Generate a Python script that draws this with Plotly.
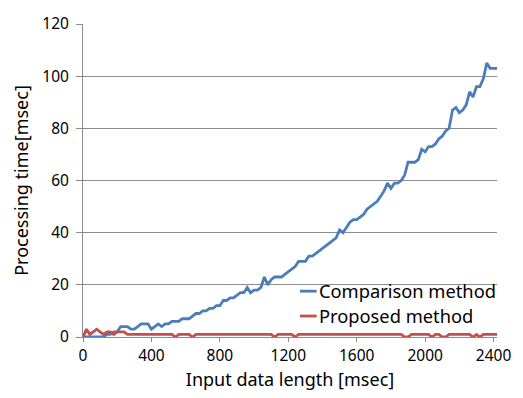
import plotly.graph_objects as go

# Input data length [msec], sampled every 20 msec
input_length = list(range(0, 2440, 20))

# Processing time [msec] of the comparison method
comparison_ms = [
    0, 0, 0, 0, 0, 0, 0, 1, 1, 2,
    2, 4, 4, 4, 3, 3, 4, 5, 5, 5,
    3, 4, 5, 4, 5, 5, 6, 6, 6, 7,
    7, 7, 8, 9, 9, 10, 10, 11, 11, 12,
    12, 14, 14, 15, 15, 16, 17, 17, 19, 17,
    18, 18, 19, 23, 20, 22, 23, 23, 23, 24,
    25, 26, 27, 29, 29, 29, 31, 31, 32, 33,
    34, 35, 36, 37, 38, 41, 40, 42, 44, 45,
    45, 46, 47, 49, 50, 51, 52, 54, 56, 59,
    57, 59, 59, 60, 62, 67, 67, 67, 68, 72,
    71, 73, 73, 74, 76, 77, 79, 80, 87, 88,
    86, 87, 89, 94, 92, 96, 96, 99, 105, 103,
    103, 103,
]

# Processing time [msec] of the proposed method
proposed_ms = [
    0, 3, 1, 2, 3, 2, 1, 2, 2, 1,
    2, 2, 2, 1, 1, 1, 1, 1, 1, 1,
    1, 1, 1, 1, 1, 1, 1, 0, 1, 1,
    1, 1, 0, 1, 1, 1, 1, 1, 1, 1,
    1, 1, 1, 1, 1, 1, 1, 1, 1, 1,
    1, 1, 1, 1, 1, 1, 0, 1, 1, 1,
    1, 1, 0, 1, 1, 1, 1, 1, 1, 1,
    1, 1, 1, 1, 1, 1, 1, 1, 1, 1,
    1, 1, 1, 1, 1, 1, 1, 1, 1, 1,
    1, 1, 1, 1, 0, 0, 1, 1, 1, 1,
    1, 1, 0, 1, 1, 0, 0, 1, 1, 1,
    1, 1, 1, 1, 0, 1, 0, 1, 1, 1,
    1, 1,
]

series_names = ["Comparison method", "Proposed method"]
series_colors = ["#4a7ebb", "#c0504d"]

x_ticks = [0, 400, 800, 1200, 1600, 2000, 2400]
y_ticks = [0, 20, 40, 60, 80, 100, 120]

FONT = "Noto Sans"
GRID = "#8c8c8c"

W, H = 523, 398
ML, MR, MT, MB = 83, 21, 16, 61
PW, PH = W - ML - MR, H - MT - MB


def px_to_paper(x, y):
    """Convert page pixel coordinates to paper coordinates."""
    return (x - ML) / PW, (H - MB - y) / PH


fig = go.Figure()
for name, ys, color in zip(series_names, [comparison_ms, proposed_ms], series_colors):
    fig.add_trace(go.Scatter(
        x=input_length, y=ys, mode="lines", name=name,
        line=dict(color=color, width=2.8), showlegend=False,
    ))

# Legend: white patch over the gridline, short line samples and labels
shapes = []
annotations = []
x0, y0 = px_to_paper(301, 279)
x1, y1 = px_to_paper(498, 300)
shapes.append(dict(type="rect", xref="paper", yref="paper", x0=x0, x1=x1, y0=y1, y1=y0,
                   fillcolor="white", line=dict(width=0), layer="between"))
for i, (name, color) in enumerate(zip(series_names, series_colors)):
    row_y = 290 + 25.5 * i
    lx0, ly = px_to_paper(302.5, row_y)
    lx1, _ = px_to_paper(319.5, row_y)
    shapes.append(dict(type="line", xref="paper", yref="paper", x0=lx0, x1=lx1, y0=ly, y1=ly,
                       line=dict(color=color, width=2.8), layer="above"))
    tx, ty = px_to_paper(319.5, row_y - 0.5)
    annotations.append(dict(text=name, xref="paper", yref="paper", x=tx, y=ty,
                            xanchor="left", yanchor="middle", showarrow=False,
                            font=dict(family=FONT, size=18.3, color="#000000")))

fig.update_layout(
    width=W, height=H,
    margin=dict(l=ML, r=MR, t=MT, b=MB),
    paper_bgcolor="white", plot_bgcolor="white",
    font=dict(family=FONT, size=15.5, color="#000000"),
    showlegend=False,
    shapes=shapes, annotations=annotations,
    xaxis=dict(
        range=[0, 2420], tickvals=x_ticks, ticktext=[str(v) for v in x_ticks],
        showgrid=False, zeroline=False,
        showline=True, linecolor=GRID, linewidth=1,
        ticks="outside", ticklen=4, tickcolor=GRID, tickwidth=1,
        title=dict(text="Input data length [msec]", standoff=8,
                   font=dict(family=FONT, size=18)),
    ),
    # second x axis only adds the upward half of the crossing tick marks
    xaxis2=dict(
        overlaying="x", range=[0, 2420], tickvals=x_ticks, showticklabels=False,
        showgrid=False, zeroline=False, showline=False,
        ticks="inside", ticklen=4, tickcolor=GRID, tickwidth=1,
        side="bottom", anchor="y",
    ),
    yaxis=dict(
        range=[0, 120], tickvals=y_ticks,
        showgrid=True, gridcolor=GRID, gridwidth=1, zeroline=False,
        showline=True, linecolor=GRID, linewidth=1,
        ticks="outside", ticklen=6, tickcolor=GRID, tickwidth=1,
        ticklabelstandoff=4,
        title=dict(text="Processing time[msec]", standoff=8,
                   font=dict(family=FONT, size=18)),
    ),
)

fig.write_html("out.html")
